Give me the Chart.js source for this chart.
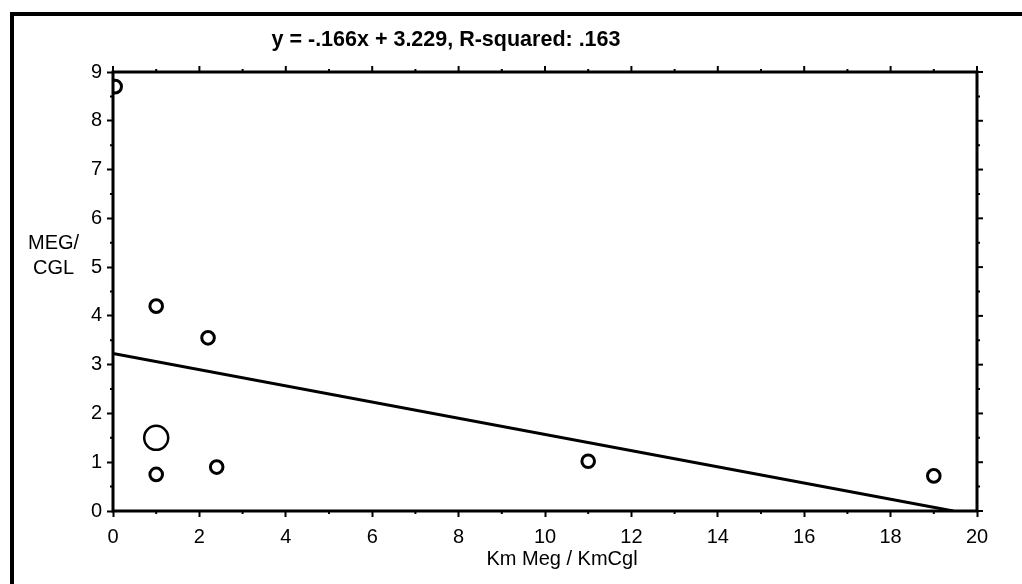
<!DOCTYPE html>
<html>
<head>
<meta charset="utf-8">
<title>MEG/CGL vs Km Meg / KmCgl</title>
<script src="https://cdn.jsdelivr.net/npm/chart.js@4/dist/chart.umd.min.js"></script>
<style>
  html, body { margin: 0; padding: 0; background: #fff; }
  #wrap { width: 1022px; height: 584px; }
</style>
</head>
<body>
<div id="wrap"><canvas id="chart" width="1022" height="584"></canvas></div>
<script>
  // observations
  const kmRatio = [0.05, 1, 2.2, 1, 1, 2.4, 11, 19];
  const megCgl = [8.7, 4.2, 3.55, 1.5, 0.75, 0.9, 1.02, 0.72];
  // number of observations stacked on each spot (big ring = 2)
  const counts = [1, 1, 1, 2, 1, 1, 1, 1];

  // regression reported in the title
  const slope = -0.166;
  const intercept = 3.229;
  const rSquared = '.163';

  const xTicks = [0, 2, 4, 6, 8, 10, 12, 14, 16, 18, 20];
  const yTicks = [0, 1, 2, 3, 4, 5, 6, 7, 8, 9];

  const FONT = '"Liberation Sans", Arial, Helvetica, sans-serif';

  let points = kmRatio.map((x, i) => ({ x: x, y: megCgl[i] }));
  let fitEnd = -intercept / slope;
  let fitLine = [{ x: 0, y: intercept }, { x: fitEnd, y: 0 }];

  /**
    Draws the page frame, plot box, minor ticks, top/right ticks and the free text.
  */
  const decorations = {
    id: 'decorations',
    afterDraw(chart) {
      let ctx = chart.ctx;
      let area = chart.chartArea;
      let xs = chart.scales.x;
      let ys = chart.scales.y;

      ctx.save();
      ctx.strokeStyle = '#000';
      ctx.fillStyle = '#000';

      // page frame (top and left edges of the scanned sheet)
      ctx.lineWidth = 4;
      ctx.beginPath();
      ctx.moveTo(12, chart.height);
      ctx.lineTo(12, 14);
      ctx.lineTo(chart.width, 14);
      ctx.stroke();

      // plot box
      ctx.lineWidth = 3;
      ctx.strokeRect(area.left, area.top, area.right - area.left, area.bottom - area.top);

      // ticks along x: minor on bottom, major + minor on top
      ctx.lineWidth = 2;
      for (let v = 0; v <= 20; v++) {
        let px = xs.getPixelForValue(v);
        let major = v % 2 === 0;
        ctx.beginPath();
        if (!major) {
          ctx.moveTo(px, area.bottom);
          ctx.lineTo(px, area.bottom + 3);
        }
        ctx.moveTo(px, area.top);
        ctx.lineTo(px, area.top - (major ? 6 : 3));
        ctx.stroke();
      }

      // ticks along y: minor on left, major + minor on right
      for (let v = 0; v <= 9; v += 0.5) {
        let py = ys.getPixelForValue(v);
        let major = v % 1 === 0;
        ctx.beginPath();
        if (!major) {
          ctx.moveTo(area.left, py);
          ctx.lineTo(area.left - 3, py);
        }
        ctx.moveTo(area.right, py);
        ctx.lineTo(area.right + (major ? 6 : 3), py);
        ctx.stroke();
      }

      // title
      ctx.font = 'bold 21.5px ' + FONT;
      ctx.textAlign = 'center';
      ctx.textBaseline = 'middle';
      let title = 'y = ' + String(slope).replace('0.', '.') + 'x + ' + intercept + ', R-squared: ' + rSquared;
      ctx.fillText(title, 446, 40);

      // y axis caption, written horizontally on two lines
      ctx.font = '20px ' + FONT;
      ctx.textAlign = 'left';
      ctx.fillText('MEG/', 28, 243);
      ctx.fillText('CGL', 33, 268);

      // x axis caption
      ctx.textAlign = 'center';
      ctx.fillText('Km Meg / KmCgl', 562, 559);

      ctx.restore();
    }
  };

  let canvas = document.getElementById('chart');
  let chart = new Chart(canvas, {
    type: 'scatter',
    data: {
      datasets: [{
        label: 'observations',
        data: points,
        showLine: false,
        borderColor: '#000',
        backgroundColor: 'rgba(0,0,0,0)',
        borderWidth: 3,
        pointRadius: counts.map(c => (c > 1 ? 12 : 6.3)),
        pointBorderWidth: counts.map(c => (c > 1 ? 2.5 : 3))
      }, {
        type: 'line',
        label: 'fit',
        data: fitLine,
        borderColor: '#000',
        borderWidth: 3,
        pointRadius: 0,
        fill: false
      }]
    },
    options: {
      responsive: false,
      animation: false,
      devicePixelRatio: 1,
      layout: { padding: { top: 72, right: 45, left: 0, bottom: 0 } },
      plugins: {
        legend: { display: false },
        tooltip: { enabled: false },
        title: { display: false }
      },
      scales: {
        x: {
          type: 'linear',
          min: 0,
          max: 20,
          afterBuildTicks: scale => { scale.ticks = xTicks.map(v => ({ value: v })); },
          afterFit: scale => { scale.height = 73; },
          border: { display: false },
          grid: { drawOnChartArea: false, drawTicks: true, tickLength: 6, tickWidth: 2, tickColor: '#000' },
          ticks: { color: '#000', padding: 8, maxRotation: 0, font: { family: FONT, size: 20 } }
        },
        y: {
          type: 'linear',
          min: 0,
          max: 9,
          afterBuildTicks: scale => { scale.ticks = yTicks.map(v => ({ value: v })); },
          afterFit: scale => { scale.width = 113; },
          border: { display: false },
          grid: { drawOnChartArea: false, drawTicks: true, tickLength: 6, tickWidth: 2, tickColor: '#000' },
          ticks: { color: '#000', padding: 5, font: { family: FONT, size: 20 } }
        }
      }
    },
    plugins: [decorations]
  });
</script>
</body>
</html>
